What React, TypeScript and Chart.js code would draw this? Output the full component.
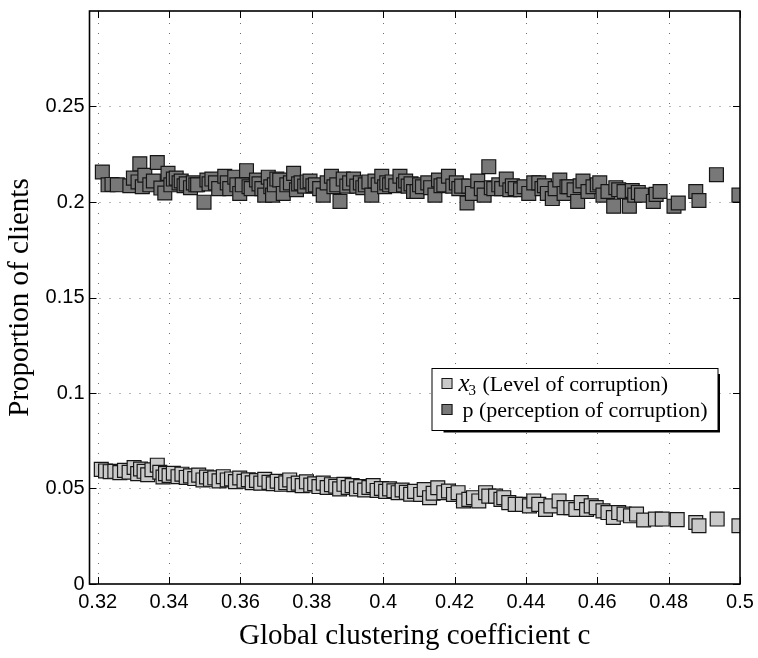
import React, { useEffect, useRef } from 'react';
import { Chart, registerables } from 'chart.js';

Chart.register(...registerables);

// ---------------- data ----------------
const pX = [
  0.3213, 0.3229, 0.3240, 0.3255, 0.3290, 0.3300, 0.3313, 0.3318, 0.3325, 0.3332,
  0.3346, 0.3356, 0.3367, 0.3377, 0.3388, 0.3397, 0.3405, 0.3412, 0.3420, 0.3428,
  0.3434, 0.3442, 0.3448, 0.3460, 0.3468, 0.3475, 0.3480, 0.3498, 0.3506, 0.3512,
  0.3520, 0.3530, 0.3539, 0.3556, 0.3563, 0.3570, 0.3584, 0.3590, 0.3598, 0.3605,
  0.3617, 0.3624, 0.3630, 0.3645, 0.3652, 0.3660, 0.3668, 0.3678, 0.3685, 0.3690,
  0.3695, 0.3702, 0.3710, 0.3720, 0.3730, 0.3740, 0.3749, 0.3757, 0.3763, 0.3770,
  0.3780, 0.3787, 0.3795, 0.3803, 0.3810, 0.3822, 0.3832, 0.3843, 0.3855, 0.3862,
  0.3870, 0.3879, 0.3888, 0.3898, 0.3906, 0.3917, 0.3926, 0.3936, 0.3943, 0.3950,
  0.3960, 0.3968, 0.3977, 0.3986, 0.3996, 0.4004, 0.4010, 0.4018, 0.4025, 0.4035,
  0.4047, 0.4057, 0.4063, 0.4070, 0.4078, 0.4085, 0.4095, 0.4102, 0.4110, 0.4125,
  0.4133, 0.4145, 0.4155, 0.4162, 0.4170, 0.4183, 0.4195, 0.4205, 0.4212, 0.4220,
  0.4235, 0.4240, 0.4250, 0.4265, 0.4275, 0.4283, 0.4296, 0.4303, 0.4310, 0.4324,
  0.4332, 0.4345, 0.4355, 0.4362, 0.4370, 0.4385, 0.4395, 0.4408, 0.4422, 0.4436,
  0.4445, 0.4452, 0.4460, 0.4474, 0.4482, 0.4495, 0.4507, 0.4515, 0.4520, 0.4535,
  0.4545, 0.4552, 0.4560, 0.4574, 0.4588, 0.4600, 0.4607, 0.4616, 0.4630, 0.4646,
  0.4652, 0.4660, 0.4675, 0.4690, 0.4698, 0.4705, 0.4715, 0.4724, 0.4757, 0.4765,
  0.4776, 0.4815, 0.4827, 0.4876, 0.4885, 0.4934, 0.4997,
];
const pY = [
  0.2157, 0.2090, 0.2092, 0.2090, 0.2085, 0.2125, 0.2105, 0.2200, 0.2080, 0.2140,
  0.2090, 0.2110, 0.2207, 0.2073, 0.2047, 0.2150, 0.2090, 0.2120, 0.2125, 0.2100,
  0.2110, 0.2085, 0.2095, 0.2075, 0.2100, 0.2090, 0.2090, 0.1999, 0.2115, 0.2095,
  0.2120, 0.2100, 0.2070, 0.2135, 0.2100, 0.2070, 0.2130, 0.2090, 0.2045, 0.2090,
  0.2164, 0.2080, 0.2070, 0.2115, 0.2095, 0.2070, 0.2036, 0.2130, 0.2080, 0.2036,
  0.2090, 0.2120, 0.2115, 0.2045, 0.2090, 0.2100, 0.2150, 0.2064, 0.2095, 0.2100,
  0.2083, 0.2105, 0.2110, 0.2085, 0.2090, 0.2070, 0.2036, 0.2100, 0.2135, 0.2080,
  0.2090, 0.2003, 0.2120, 0.2083, 0.2100, 0.2120, 0.2083, 0.2100, 0.2075, 0.2090,
  0.2105, 0.2036, 0.2110, 0.2090, 0.2135, 0.2080, 0.2100, 0.2090, 0.2105, 0.2085,
  0.2135, 0.2090, 0.2110, 0.2083, 0.2095, 0.2055, 0.2055, 0.2090, 0.2080, 0.2100,
  0.2075, 0.2036, 0.2115, 0.2085, 0.2090, 0.2135, 0.2083, 0.2100, 0.2070, 0.2083,
  0.1995, 0.2083, 0.2045, 0.2110, 0.2070, 0.2036, 0.2185, 0.2075, 0.2070, 0.2090,
  0.2070, 0.2120, 0.2064, 0.2085, 0.2070, 0.2064, 0.2080, 0.2045, 0.2100, 0.2100,
  0.2070, 0.2085, 0.2045, 0.2018, 0.2070, 0.2115, 0.2045, 0.2080, 0.2080, 0.2064,
  0.2003, 0.2085, 0.2110, 0.2055, 0.2080, 0.2090, 0.2100, 0.2036, 0.2055, 0.1978,
  0.2075, 0.2064, 0.2055, 0.1978, 0.2060, 0.2036, 0.2050, 0.2036, 0.2003, 0.2040,
  0.2055, 0.1978, 0.1995, 0.2055, 0.2008, 0.2143, 0.2036,
];

const x3X = [
  0.3210, 0.3222, 0.3235, 0.3248, 0.3262, 0.3275, 0.3288, 0.3302, 0.3312, 0.3320,
  0.3330, 0.3340, 0.3352, 0.3367, 0.3374, 0.3383, 0.3390, 0.3400, 0.3412, 0.3425,
  0.3436, 0.3448, 0.3460, 0.3472, 0.3483, 0.3495, 0.3505, 0.3516, 0.3528, 0.3540,
  0.3552, 0.3563, 0.3575, 0.3586, 0.3598, 0.3610, 0.3622, 0.3633, 0.3645, 0.3657,
  0.3668, 0.3680, 0.3692, 0.3703, 0.3715, 0.3727, 0.3738, 0.3750, 0.3762, 0.3773,
  0.3785, 0.3797, 0.3808, 0.3820, 0.3832, 0.3843, 0.3855, 0.3867, 0.3878, 0.3890,
  0.3902, 0.3913, 0.3925, 0.3937, 0.3948, 0.3960, 0.3972, 0.3983, 0.3995, 0.4007,
  0.4018, 0.4030, 0.4042, 0.4053, 0.4065, 0.4077, 0.4088, 0.4105, 0.4115, 0.4130,
  0.4140, 0.4153, 0.4170, 0.4183, 0.4197, 0.4210, 0.4225, 0.4240, 0.4253, 0.4268,
  0.4287, 0.4296, 0.4315, 0.4330, 0.4338, 0.4352, 0.4370, 0.4390, 0.4410, 0.4422,
  0.4436, 0.4455, 0.4470, 0.4493, 0.4507, 0.4526, 0.4540, 0.4555, 0.4570, 0.4583,
  0.4597, 0.4616, 0.4630, 0.4645, 0.4660, 0.4675, 0.4693, 0.4710, 0.4730, 0.4763,
  0.4782, 0.4824, 0.4876, 0.4885, 0.4936, 0.4997,
];
const x3Y = [
  0.0600, 0.0592, 0.0588, 0.0590, 0.0583, 0.0595, 0.0585, 0.0610, 0.0578, 0.0602,
  0.0590, 0.0572, 0.0598, 0.0622, 0.0585, 0.0560, 0.0578, 0.0568, 0.0580, 0.0562,
  0.0575, 0.0558, 0.0566, 0.0552, 0.0570, 0.0545, 0.0560, 0.0548, 0.0556, 0.0540,
  0.0562, 0.0545, 0.0550, 0.0536, 0.0555, 0.0538, 0.0546, 0.0530, 0.0542, 0.0528,
  0.0548, 0.0532, 0.0525, 0.0538, 0.0522, 0.0530, 0.0545, 0.0520, 0.0528, 0.0515,
  0.0535, 0.0518, 0.0525, 0.0510, 0.0528, 0.0505, 0.0520, 0.0512, 0.0498, 0.0522,
  0.0505, 0.0515, 0.0498, 0.0510, 0.0492, 0.0505, 0.0515, 0.0490, 0.0500, 0.0485,
  0.0498, 0.0488, 0.0478, 0.0492, 0.0480, 0.0470, 0.0485, 0.0469, 0.0495, 0.0452,
  0.0475, 0.0504, 0.0478, 0.0487, 0.0469, 0.0478, 0.0435, 0.0443, 0.0452, 0.0435,
  0.0478, 0.0460, 0.0460, 0.0443, 0.0452, 0.0426, 0.0417, 0.0417, 0.0409, 0.0435,
  0.0417, 0.0390, 0.0409, 0.0435, 0.0400, 0.0400, 0.0390, 0.0426, 0.0390, 0.0409,
  0.0400, 0.0383, 0.0374, 0.0348, 0.0374, 0.0366, 0.0357, 0.0366, 0.0335, 0.0340,
  0.0340, 0.0337, 0.0322, 0.0305, 0.0340, 0.0305,
];

const xTicks = [0.32, 0.34, 0.36, 0.38, 0.4, 0.42, 0.44, 0.46, 0.48, 0.5];
const yTicks = [0, 0.05, 0.1, 0.15, 0.2, 0.25];
const xRange = [0.3177, 0.5];
const yRange = [0, 0.3];

const xTitle = 'Global clustering coefficient c';
const yTitle = 'Proportion of clients';
const legendX3Symbol = 'x';
const legendX3Sub = '3';
const legendX3Text = '(Level of corruption)';
const legendPText = 'p (perception of corruption)';

const LIGHT = '#c9c9c9';
const DARK = '#787878';
const EDGE = '#161616';

const W = 758;
const H = 658;

const fmt = (v: number) => String(Number(v.toFixed(2)));

const decorPlugin = {
  id: 'decor',
  beforeDatasetsDraw(chart: any) {
    const { ctx, chartArea: a, scales } = chart;
    const x = scales.x;
    const y = scales.y;
    ctx.save();
    ctx.strokeStyle = '#6e6e6e';
    ctx.lineWidth = 1;
    ctx.setLineDash([1, 9]);
    for (const t of xTicks) {
      const px = Math.round(x.getPixelForValue(t)) + 0.5;
      if (px > a.left + 2 && px < a.right - 2) {
        ctx.beginPath();
        ctx.moveTo(px, a.bottom);
        ctx.lineTo(px, a.top);
        ctx.stroke();
      }
    }
    for (const t of yTicks) {
      const py = Math.round(y.getPixelForValue(t)) + 0.5;
      if (py > a.top + 2 && py < a.bottom - 2) {
        ctx.beginPath();
        ctx.moveTo(a.left, py);
        ctx.lineTo(a.right, py);
        ctx.stroke();
      }
    }
    ctx.restore();
  },
  afterDatasetsDraw(chart: any) {
    const { ctx, chartArea: a, scales } = chart;
    const x = scales.x;
    const y = scales.y;
    ctx.save();
    ctx.strokeStyle = '#000';
    ctx.lineWidth = 1;
    const tl = 7;
    for (const t of xTicks) {
      const px = Math.round(x.getPixelForValue(t)) + 0.5;
      ctx.beginPath();
      ctx.moveTo(px, a.bottom);
      ctx.lineTo(px, a.bottom - tl);
      ctx.moveTo(px, a.top);
      ctx.lineTo(px, a.top + tl);
      ctx.stroke();
    }
    for (const t of yTicks) {
      const py = Math.round(y.getPixelForValue(t)) + 0.5;
      ctx.beginPath();
      ctx.moveTo(a.left, py);
      ctx.lineTo(a.left + tl, py);
      ctx.moveTo(a.right, py);
      ctx.lineTo(a.right - tl, py);
      ctx.stroke();
    }
    ctx.lineWidth = 1.6;
    ctx.strokeRect(a.left, a.top, a.right - a.left, a.bottom - a.top);
    ctx.restore();
  },
  afterDraw(chart: any) {
    const { ctx, chartArea: a } = chart;
    const lx = a.left + 342;
    const ly = a.top + 357;
    const lw = 286;
    const lh = 62;
    ctx.save();
    ctx.fillStyle = '#fff';
    ctx.fillRect(lx, ly, lw, lh);
    ctx.strokeStyle = '#000';
    ctx.lineWidth = 1;
    ctx.strokeRect(lx + 0.5, ly + 0.5, lw, lh);
    ctx.lineWidth = 2;
    ctx.beginPath();
    ctx.moveTo(lx + 12, ly + lh + 1.5);
    ctx.lineTo(lx + lw + 1.5, ly + lh + 1.5);
    ctx.lineTo(lx + lw + 1.5, ly + 6);
    ctx.stroke();

    const rows = [
      { color: LIGHT, base: ly + 23 },
      { color: DARK, base: ly + 49 },
    ];
    ctx.lineWidth = 1;
    for (const r of rows) {
      ctx.fillStyle = r.color;
      ctx.fillRect(lx + 10, r.base - 13, 11, 11);
      ctx.strokeStyle = EDGE;
      ctx.strokeRect(lx + 10.5, r.base - 12.5, 10, 10);
    }
    ctx.fillStyle = '#000';
    ctx.textBaseline = 'alphabetic';
    ctx.font = 'italic 25px "Liberation Serif"';
    ctx.fillText(legendX3Symbol, lx + 27, rows[0].base);
    const xw = ctx.measureText(legendX3Symbol).width;
    ctx.font = '15px "Liberation Serif"';
    ctx.fillText(legendX3Sub, lx + 27 + xw - 1, rows[0].base + 4);
    ctx.font = '22px "Liberation Serif"';
    ctx.fillText(legendX3Text, lx + 51, rows[0].base);
    ctx.fillText(legendPText, lx + 31, rows[1].base);
    ctx.restore();
  },
};

export default function App() {
  const ref = useRef<HTMLCanvasElement | null>(null);
  useEffect(() => {
    if (!ref.current) return;
    const chart = new Chart(ref.current, {
      type: 'scatter',
      data: {
        datasets: [
          {
            label: 'x3',
            data: x3X.map((v, i) => ({ x: v, y: x3Y[i] })),
            backgroundColor: LIGHT,
            borderColor: EDGE,
            borderWidth: 1.2,
            pointStyle: 'rect',
            pointRadius: 9.8,
          },
          {
            label: 'p',
            data: pX.map((v, i) => ({ x: v, y: pY[i] })),
            backgroundColor: DARK,
            borderColor: EDGE,
            borderWidth: 1.2,
            pointStyle: 'rect',
            pointRadius: 9.8,
          },
        ],
      },
      options: {
        animation: false,
        responsive: false,
        devicePixelRatio: 1,
        events: [],
        layout: { padding: { left: 0, right: 18, top: 4, bottom: 0 } },
        plugins: { legend: { display: false }, tooltip: { enabled: false } },
        scales: {
          x: {
            type: 'linear',
            min: xRange[0],
            max: xRange[1],
            grid: { display: false, drawTicks: false },
            border: { display: false },
            afterBuildTicks: (s: any) => {
              s.ticks = xTicks.map((v) => ({ value: v }));
            },
            afterFit: (s: any) => {
              s.height = 74;
              s.paddingLeft = 0;
              s.paddingRight = 0;
            },
            ticks: {
              autoSkip: false,
              maxRotation: 0,
              padding: 6,
              color: '#000',
              font: { family: '"Liberation Sans", Arial, sans-serif', size: 20 },
              callback: (v: any) => fmt(Number(v)),
            },
            title: {
              display: true,
              text: xTitle,
              color: '#000',
              padding: { top: 0, bottom: 4 },
              font: { family: '"Liberation Serif", serif', size: 29 },
            },
          },
          y: {
            type: 'linear',
            min: yRange[0],
            max: yRange[1],
            grid: { display: false, drawTicks: false },
            border: { display: false },
            afterBuildTicks: (s: any) => {
              s.ticks = yTicks.map((v) => ({ value: v }));
            },
            afterFit: (s: any) => {
              s.width = 89.5;
              s.paddingTop = 0;
              s.paddingBottom = 0;
            },
            ticks: {
              autoSkip: false,
              padding: 5,
              color: '#000',
              font: { family: '"Liberation Sans", Arial, sans-serif', size: 20 },
              callback: (v: any) => fmt(Number(v)),
            },
            title: {
              display: true,
              text: yTitle,
              color: '#000',
              padding: { top: 3, bottom: 0 },
              font: { family: '"Liberation Serif", serif', size: 29 },
            },
          },
        },
      },
      plugins: [decorPlugin],
    } as any);
    return () => chart.destroy();
  }, []);
  return (
    <div style={{ position: 'absolute', left: 0, top: 0, width: W, height: H, background: '#fff' }}>
      <canvas ref={ref} width={W} height={H} style={{ display: 'block' }} />
    </div>
  );
}
